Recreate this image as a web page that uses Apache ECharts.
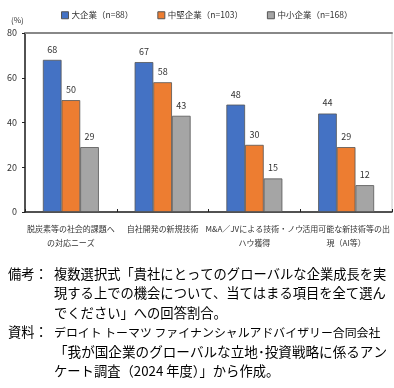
<!DOCTYPE html>
<html><head><meta charset="utf-8">
<script src="https://cdn.jsdelivr.net/npm/echarts@6/dist/echarts.min.js"></script>
<style>html,body{margin:0;padding:0;background:#fff}#c{width:394px;height:388px}</style>
</head><body><div id="c"></div>
<script>
const categories = ["脱炭素等の社会的課題へ\nの対応ニーズ", "自社開発の新規技術", "M&A／JVによる技術・ノウ\nハウ獲得", "活用可能な新技術等の出\n現（AI等）"];
const seriesNames = ["大企業（n=88）", "中堅企業（n=103）", "中小企業（n=168）"];
const large = [68, 67, 48, 44];
const medium = [50, 58, 30, 29];
const small = [29, 43, 15, 12];
const yTicks = [0, 20, 40, 60, 80];
const noteLines = [
  ["備考：", "複数選択式「貴社にとってのグローバルな企業成長を実"],
  ["", "現する上での機会について、当てはまる項目を全て選ん"],
  ["", "でください」への回答割合。"],
  ["資料：", "デロイト トーマツ ファイナンシャルアドバイザリー合同会社"],
  ["", "「我が国企業のグローバルな立地･投資戦略に係るアン"],
  ["", "ケート調査（2024 年度）」から作成。"]
];
const noteSizes = [13.3, 13.3, 13.3, 11.9, 13.6, 13.3];
const colors = ["#4472C4", "#ED7D31", "#A5A5A5"];
const font = '"Noto Sans CJK JP", sans-serif';
const chart = echarts.init(document.getElementById('c'));
const graphics = [];
noteLines.forEach((l, i) => {
  const y = 275 + i * 19.5;
  if (l[0]) graphics.push({type:'text', left: 8, top: y - 8, style:{text:l[0], font:'13.3px ' + font, fill:'#000'}});
  graphics.push({type:'text', left: 54, top: y - 8 + (13.3 - noteSizes[i]) / 2, style:{text:l[1], font: noteSizes[i] + 'px ' + font, fill:'#000'}});
});
graphics.push({type:'text', left: 11, top: 16, style:{text:'(%)', font:'8px ' + font, fill:'#333'}});
const vals = [large, medium, small];
chart.setOption({
  animation: false,
  textStyle: {fontFamily: font},
  legend: {top: 6, left: 56, itemWidth: 7, itemHeight: 7, itemGap: 24,
    textStyle: {fontSize: 8.5, color: '#333', padding: [0, 0, 0, -2]},
    data: seriesNames.map((n, i) => ({name: n, icon: 'rect', itemStyle: {borderColor: '#555', borderWidth: 1}}))},
  grid: {left: 25, right: 2, top: 33, bottom: 176, show: true, borderColor: '#c8c8c8', borderWidth: 1},
  xAxis: [{type: 'category', data: categories,
    axisLine: {lineStyle: {color: '#222', width: 1.5}},
    axisTick: {show: true, inside: true, length: 3, lineStyle: {color: '#222'}},
    axisLabel: {fontSize: 8, color: '#333', interval: 0, lineHeight: 14, margin: 10}},
    {type: 'category', position: 'top', data: categories,
    axisLine: {show: true, lineStyle: {color: '#888', width: 2}},
    axisTick: {show: false}, axisLabel: {show: false}}],
  yAxis: {type: 'value', min: 0, max: 80, interval: 20,
    axisLine: {show: true, lineStyle: {color: '#222', width: 1.5}},
    axisTick: {show: true, inside: false, length: 3, lineStyle: {color: '#222'}},
    splitLine: {show: false},
    axisLabel: {fontSize: 9, color: '#333', margin: 8}},
  series: vals.map((v, i) => ({
    name: seriesNames[i], type: 'bar', data: v, barGap: '0%', barCategoryGap: '39%',
    itemStyle: {color: colors[i], borderColor: '#555', borderWidth: 0.8},
    label: {show: true, position: 'top', distance: 6, fontSize: 9, color: '#333'}
  })),
  graphic: graphics
});
</script></body></html>
